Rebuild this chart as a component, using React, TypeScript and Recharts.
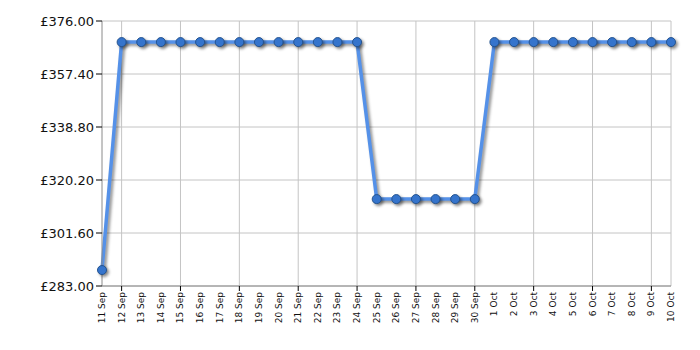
import { LineChart, Line, XAxis, YAxis, CartesianGrid, ReferenceLine } from 'recharts';

const dates = [
  '11 Sep', '12 Sep', '13 Sep', '14 Sep', '15 Sep', '16 Sep', '17 Sep', '18 Sep', '19 Sep', '20 Sep',
  '21 Sep', '22 Sep', '23 Sep', '24 Sep', '25 Sep', '26 Sep', '27 Sep', '28 Sep', '29 Sep', '30 Sep',
  '1 Oct', '2 Oct', '3 Oct', '4 Oct', '5 Oct', '6 Oct', '7 Oct', '8 Oct', '9 Oct', '10 Oct',
];

const prices = [
  288.6, 368.6, 368.6, 368.6, 368.6, 368.6, 368.6, 368.6, 368.6, 368.6,
  368.6, 368.6, 368.6, 368.6, 313.5, 313.5, 313.5, 313.5, 313.5, 313.5,
  368.6, 368.6, 368.6, 368.6, 368.6, 368.6, 368.6, 368.6, 368.6, 368.6,
];

const yTicks = [283.0, 301.6, 320.2, 338.8, 357.4, 376.0];

const data = dates.map((d, i) => ({ date: d, price: prices[i] }));

// grid lines / tick marks fall on every 3rd day starting at 12 Sep
const gridDates = dates.filter((_, i) => i % 3 === 1);

const gridColor = '#c4c4c4';
const axisColor = '#8a8a8a';

const XTick = (props: any) => {
  const { x, y, payload, index } = props;
  const marked = index % 3 === 1;
  const ty = y - 2;
  return (
    <g>
      {marked && <line x1={x} x2={x} y1={y - 8} y2={y - 3} stroke="#000" strokeWidth={1} />}
      <text
        x={x}
        y={ty}
        transform={`rotate(-90, ${x}, ${ty})`}
        textAnchor="end"
        dominantBaseline="central"
        fontSize={9}
        fontFamily="DejaVu Sans, Verdana, sans-serif"
        fill="#111"
      >
        {payload.value}
      </text>
    </g>
  );
};

export default function App() {
  return (
    <div style={{ position: 'absolute', left: 0, top: 0, background: '#fff' }}>
      <LineChart width={700} height={350} data={data} margin={{ top: 21, right: 29, bottom: 0, left: 0 }}>
        <CartesianGrid vertical={false} stroke={gridColor} />
        {gridDates.map((d) => (
          <ReferenceLine key={d} x={d} stroke={gridColor} />
        ))}
        <ReferenceLine x={dates[dates.length - 1]} stroke={gridColor} />
        <XAxis
          dataKey="date"
          interval={0}
          tickLine={false}
          axisLine={{ stroke: axisColor }}
          tick={<XTick />}
          height={64}
        />
        <YAxis
          width={102}
          domain={[283, 376]}
          ticks={yTicks}
          interval={0}
          axisLine={{ stroke: axisColor }}
          tickLine={{ stroke: '#000' }}
          tickSize={6}
          tickFormatter={(v: number) => '£' + v.toFixed(2)}
          tick={{ fontSize: 13, fill: '#111', fontFamily: 'DejaVu Sans, Verdana, sans-serif' }}
        />
        <Line
          type="linear"
          dataKey="price"
          stroke="#5591e8"
          strokeWidth={3.5}
          dot={{ r: 4.5, fill: '#3574cc', stroke: '#24538f', strokeWidth: 1 }}
          activeDot={false}
          isAnimationActive={false}
          style={{ filter: 'drop-shadow(2px 2px 1.5px rgba(0,0,0,0.45))' }}
        />
      </LineChart>
    </div>
  );
}
